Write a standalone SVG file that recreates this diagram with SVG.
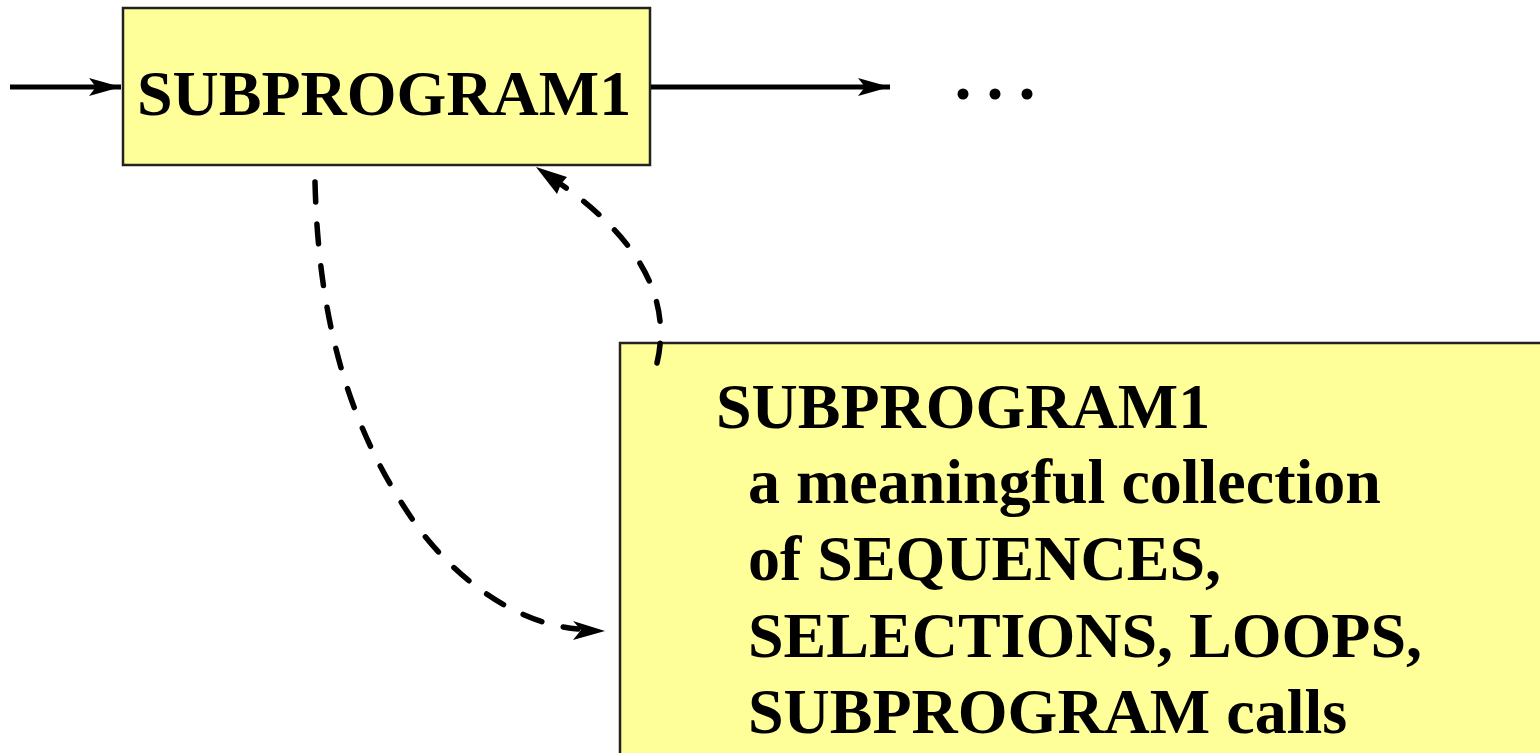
<svg xmlns="http://www.w3.org/2000/svg" width="1540" height="753" viewBox="0 0 1540 753">
<style>
.box{fill:#ffff99;stroke:#222;stroke-width:2.5}
.t{font-family:"Liberation Serif",serif;font-weight:bold;font-size:64px;fill:#000}
.ln{fill:none;stroke:#000;stroke-width:5}
.dash{fill:none;stroke:#000;stroke-width:5.5;stroke-dasharray:20 22;stroke-linecap:round}
</style>
<defs>
<marker id="ahb" viewBox="0 0 32 18" refX="32" refY="9" markerWidth="32" markerHeight="18" markerUnits="userSpaceOnUse" orient="auto">
<path d="M0,0 L32,9 L0,18 L7,9 Z" fill="#000"/>
</marker>
</defs>
<g id="node-sub1">
<rect class="box" x="123" y="8" width="527" height="157"/>
<text class="t" x="137" y="115">SUBPROGRAM1</text>
</g>
<g id="node-detail">
<rect class="box" x="620" y="343" width="930" height="420"/>
<text class="t" x="716" y="428">SUBPROGRAM1</text>
<text class="t" x="748" y="503">a meaningful collection</text>
<text class="t" x="748" y="580">of SEQUENCES,</text>
<text class="t" x="748" y="657">SELECTIONS, LOOPS,</text>
<text class="t" x="748" y="733">SUBPROGRAM calls</text>
</g>
<g id="node-dots">
<circle cx="963" cy="94" r="5.5"/>
<circle cx="995" cy="94" r="5.5"/>
<circle cx="1027" cy="94" r="5.5"/>
</g>
<g id="connectors">
<line class="ln" x1="10" y1="87" x2="121" y2="87" marker-end="url(#ahb)"/>
<line class="ln" x1="651" y1="87" x2="890" y2="87" marker-end="url(#ahb)"/>
<path class="dash" d="M315,182 C318,300 340,420 420,530 C470,595 530,625 578,629"/>
<path d="M573,621 L605,631 L573,640 L581,630 Z" fill="#000"/>
<path class="dash" d="M657,363 C672,300 640,240 562,185"/>
<path d="M536,167 L567,177 L561,184 L557,194 Z" fill="#000"/>
</g>
</svg>
